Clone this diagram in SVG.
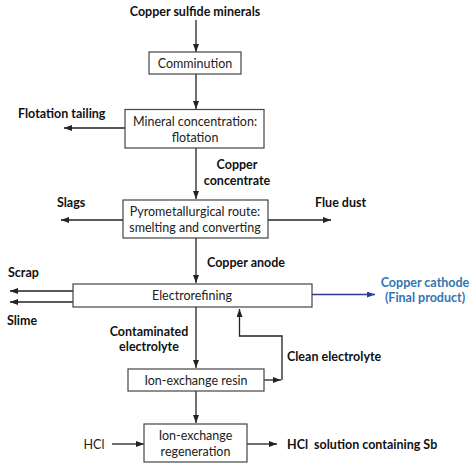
<svg xmlns="http://www.w3.org/2000/svg" width="474" height="469" viewBox="0 0 474 469">
<defs>
<marker id="ah" viewBox="0 0 8 6" refX="8" refY="3" markerWidth="8" markerHeight="6" markerUnits="userSpaceOnUse" orient="auto"><path d="M0,0 L8,3 L0,6 z" fill="#222"/></marker>
<marker id="ahb" viewBox="0 0 8 6" refX="8" refY="3" markerWidth="8" markerHeight="6" markerUnits="userSpaceOnUse" orient="auto"><path d="M0,0 L8,3 L0,6 z" fill="#2b3a9e"/></marker>
</defs>
<style>
.box{fill:#fff;stroke:#444;stroke-width:1.2}
.t{font-family:Lato,"Liberation Sans",sans-serif;font-size:12.5px;fill:#222;text-anchor:middle}
.b{font-family:Lato,"Liberation Sans",sans-serif;font-size:12.5px;font-weight:bold;fill:#111}
.c{stroke:#222;stroke-width:1.3;fill:none;marker-end:url(#ah)}
</style>
<rect width="474" height="469" fill="#fff"/>
<g id="connectors">
<line class="c" x1="196" y1="20" x2="196" y2="52"/>
<line class="c" x1="196" y1="74" x2="196" y2="109"/>
<line class="c" x1="125" y1="128" x2="64" y2="128"/>
<line class="c" x1="196" y1="148" x2="196" y2="199"/>
<line class="c" x1="123" y1="220" x2="61" y2="220"/>
<line class="c" x1="268" y1="220" x2="331" y2="220"/>
<line class="c" x1="196" y1="238" x2="196" y2="283"/>
<line class="c" x1="73" y1="291" x2="10" y2="291"/>
<line class="c" x1="73" y1="302" x2="10" y2="302"/>
<line x1="312" y1="294.5" x2="375" y2="294.5" stroke="#2b3a9e" stroke-width="1.3" marker-end="url(#ahb)"/>
<line class="c" x1="196" y1="307" x2="196" y2="368"/>
<line class="c" x1="264" y1="380" x2="281" y2="380"/>
<polyline class="c" points="282,380 282,336 239.5,336 239.5,309"/>
<line class="c" x1="196" y1="391" x2="196" y2="423"/>
<line class="c" x1="112" y1="444" x2="144" y2="444"/>
<line class="c" x1="247" y1="444" x2="277" y2="444"/>
</g>
<g id="copper-sulfide-minerals"><text class="b" x="195" y="16" text-anchor="middle">Copper sulfide minerals</text></g>
<g id="comminution"><rect class="box" x="149" y="52" width="92" height="22"/><text class="t" x="195" y="67.5">Comminution</text></g>
<g id="flotation-tailing"><text class="b" x="18" y="118">Flotation tailing</text></g>
<g id="mineral-concentration"><rect class="box" x="125" y="109.5" width="139" height="38.5"/><text class="t" x="195" y="126">Mineral concentration:</text><text class="t" x="195" y="141.5">flotation</text></g>
<g id="copper-concentrate"><text class="b" x="237" y="169" text-anchor="middle">Copper</text><text class="b" x="237" y="185" text-anchor="middle">concentrate</text></g>
<g id="slags"><text class="b" x="57" y="207">Slags</text></g>
<g id="flue-dust"><text class="b" x="315" y="207">Flue dust</text></g>
<g id="pyrometallurgical"><rect class="box" x="123" y="200" width="145" height="38"/><text class="t" x="195" y="216">Pyrometallurgical route:</text><text class="t" x="195" y="231.5">smelting and converting</text></g>
<g id="copper-anode"><text class="b" x="207" y="267">Copper anode</text></g>
<g id="scrap"><text class="b" x="8" y="277">Scrap</text></g>
<g id="electrorefining"><rect class="box" x="73" y="284" width="239" height="23"/><text class="t" x="192" y="300">Electrorefining</text></g>
<g id="copper-cathode"><text class="b" x="425" y="287" text-anchor="middle" fill="#2e75b6" style="fill:#2e75b6">Copper cathode</text><text class="b" x="425" y="302" text-anchor="middle" style="fill:#2e75b6">(Final product)</text></g>
<g id="slime"><text class="b" x="7" y="325">Slime</text></g>
<g id="contaminated-electrolyte"><text class="b" x="149" y="336" text-anchor="middle">Contaminated</text><text class="b" x="149" y="351" text-anchor="middle">electrolyte</text></g>
<g id="clean-electrolyte"><text class="b" x="287" y="361">Clean electrolyte</text></g>
<g id="ion-exchange-resin"><rect class="box" x="128" y="369" width="136" height="22"/><text class="t" x="196" y="384.5">Ion-exchange resin</text></g>
<g id="hcl-in"><text class="t" x="94" y="448.5">HCl</text></g>
<g id="ion-exchange-regeneration"><rect class="box" x="144" y="424" width="103" height="38"/><text class="t" x="195.5" y="440">Ion-exchange</text><text class="t" x="195.5" y="456">regeneration</text></g>
<g id="hcl-out"><text class="b" x="287" y="448.5" xml:space="preserve">HCl  solution containing Sb</text></g>
</svg>
